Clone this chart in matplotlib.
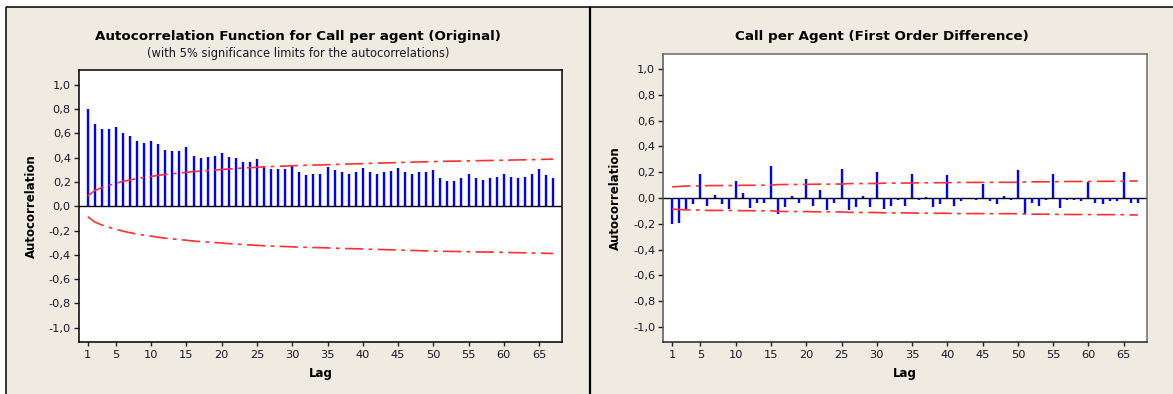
import numpy as np
import matplotlib
matplotlib.use("Agg")
import matplotlib.pyplot as plt
from matplotlib.lines import Line2D
from matplotlib.patches import Rectangle
from matplotlib.ticker import FixedLocator, FuncFormatter

# ---- data -------------------------------------------------------------
lags = list(range(1, 68))

acf_original = [
    0.80, 0.68, 0.64, 0.635, 0.65, 0.60, 0.575, 0.54, 0.525, 0.54,
    0.515, 0.465, 0.455, 0.455, 0.49, 0.415, 0.40, 0.405, 0.415, 0.44,
    0.405, 0.40, 0.365, 0.365, 0.39, 0.33, 0.31, 0.31, 0.31, 0.335,
    0.28, 0.255, 0.265, 0.27, 0.325, 0.295, 0.28, 0.265, 0.28, 0.315,
    0.28, 0.27, 0.28, 0.29, 0.315, 0.28, 0.27, 0.28, 0.28, 0.295,
    0.23, 0.205, 0.205, 0.23, 0.265, 0.23, 0.22, 0.23, 0.24, 0.27,
    0.245, 0.23, 0.245, 0.265, 0.305, 0.255, 0.23,
]

acf_first_diff = [
    -0.205, -0.195, -0.085, -0.05, 0.185, -0.06, 0.027, -0.043, -0.085, 0.133,
    0.037, -0.075, -0.04, -0.04, 0.248, -0.123, -0.069, 0.019, -0.035, 0.149,
    -0.059, 0.061, -0.093, -0.04, 0.224, -0.091, -0.067, 0.019, -0.067, 0.20,
    -0.083, -0.059, -0.013, -0.059, 0.184, -0.019, 0.011, -0.067, -0.043, 0.176,
    -0.059, -0.027, 0.003, -0.019, 0.109, -0.027, -0.043, 0.019, -0.019, 0.216,
    -0.125, -0.035, -0.059, -0.019, 0.184, -0.075, -0.019, -0.019, -0.027, 0.128,
    -0.035, -0.043, -0.027, -0.027, 0.20, -0.035, -0.035,
]

n_obs_original = 519
n_obs_first_diff = 518

lag_ticks = [1, 5, 10, 15, 20, 25, 30, 35, 40, 45, 50, 55, 60, 65]
acf_ticks = [-1.0, -0.8, -0.6, -0.4, -0.2, 0.0, 0.2, 0.4, 0.6, 0.8, 1.0]

titles = ["Autocorrelation Function for Call per agent (Original)",
          "Call per Agent (First Order Difference)"]
subtitle = "(with 5% significance limits for the autocorrelations)"


def bartlett_limits(r, n, z=1.96):
    """5% significance limits for the autocorrelations (Bartlett)."""
    r = np.asarray(r, dtype=float)
    cum = np.concatenate([[0.0], np.cumsum(r[:-1] ** 2)])
    return z * np.sqrt((1.0 + 2.0 * cum) / n)


# ---- figure ----------------------------------------------------------
W, H = 1173, 394
BG = "#efebe0"
TXT = "#16162a"
plt.rcParams["font.family"] = ["DejaVu Sans"]

fig = plt.figure(figsize=(W / 100, H / 100), dpi=100, facecolor="white")


def fx(px):
    return px / W


def fy(py):
    return 1 - py / H


# panel background and frame lines
fig.patches.append(Rectangle((fx(6), 0), 1 - fx(6), fy(7), transform=fig.transFigure,
                             facecolor=BG, edgecolor="none", zorder=-5))
for (x0, y0, x1, y1, lw) in [(6, 7, W, 7, 1.1), (6, 7, 6, H, 1.1), (590, 7, 590, H, 1.6)]:
    fig.add_artist(Line2D([fx(x0), fx(x1)], [fy(y0), fy(y1)], transform=fig.transFigure,
                          color="black", lw=lw, solid_capstyle="butt", zorder=-4))

# axes boxes (left, top, right, bottom in pixels)
boxes = [(78.6, 70.3, 562.3, 342.3), (663.0, 53.7, 1147.0, 342.3)]
panel_centers = [298, 881.5]
series = [(acf_original, n_obs_original), (acf_first_diff, n_obs_first_diff)]
spine_colors = [
    {"left": "black", "bottom": "black", "top": "black", "right": "black"},
    {"left": "#555555", "bottom": "#222222", "top": "#6a6a6a", "right": "#6a6a6a"},
]

comma_fmt = FuncFormatter(lambda v, p: f"{v:.1f}".replace(".", ","))

for i, ((l, t, r, b), (acf, n)) in enumerate(zip(boxes, series)):
    ax = fig.add_axes([fx(l), fy(b), fx(r) - fx(l), (b - t) / H])
    ax.set_facecolor("white")
    ax.set_xlim(-0.3, 68.3)
    ax.set_ylim(-1.12, 1.12)

    ax.axhline(0, color="black", lw=1.0, zorder=2)
    ax.vlines(lags, 0, acf, colors="#0000ff", lw=1.7, zorder=3)

    lim = bartlett_limits(acf, n)
    for sign in (1, -1):
        ln, = ax.plot(lags, sign * lim, color="#ff3030", lw=1.2, zorder=4)
        ln.set_dashes((11, 3.2, 2.2, 3.2))

    ax.xaxis.set_major_locator(FixedLocator(lag_ticks))
    ax.yaxis.set_major_locator(FixedLocator(acf_ticks))
    ax.yaxis.set_major_formatter(comma_fmt)
    ax.tick_params(axis="x", direction="out", length=3, width=1.0, pad=2.5,
                   labelsize=8.2, labelcolor=TXT, color="#222222")
    ax.tick_params(axis="y", direction="out", length=3.6, width=1.0, pad=2.0,
                   labelsize=8.2, labelcolor=TXT, color="#222222")
    for side, sp in ax.spines.items():
        sp.set_linewidth(1.1)
        sp.set_color(spine_colors[i][side])

    ax.set_xlabel("Lag", fontsize=8.5, fontweight="bold", color="black", va="center")
    ax.xaxis.set_label_coords(0.5, -(374 - b) / (b - t))
    ax.set_ylabel("Autocorrelation", fontsize=8.5, fontweight="bold", color="black",
                  va="center")
    ax.yaxis.set_label_coords(-47.5 / (r - l), 0.5)

    fig.text(fx(panel_centers[i]), fy(39.7), titles[i], ha="center", va="baseline",
             fontsize=9.7, fontweight="bold", color="black")

fig.text(fx(panel_centers[0]), fy(56.7), subtitle, ha="center", va="baseline",
         fontsize=8.3, color=TXT)

fig.savefig("out.png", dpi=100, facecolor="white")
